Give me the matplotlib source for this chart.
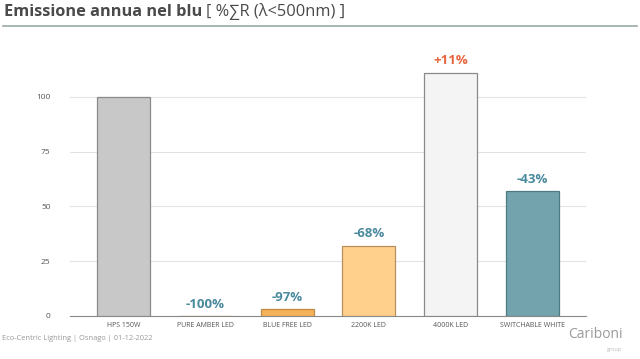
import numpy as np
import matplotlib.pyplot as plt

# data
categories = ["HPS 150W", "PURE AMBER LED", "BLUE FREE LED", "2200K LED", "4000K LED", "SWITCHABLE WHITE"]
values = [100, 0, 3, 32, 111, 57]
labels = ["", "-100%", "-97%", "-68%", "+11%", "-43%"]
bar_colors = ["#c8c8c8", "#f6b25a", "#f6b25a", "#ffd08c", "#f4f4f4", "#73a4ad"]
edge_colors = ["#8a8a8a", "#c08a45", "#c08a45", "#b89060", "#8a8a8a", "#4f7a82"]
label_colors = ["#4a8a9e", "#4a8a9e", "#4a8a9e", "#4a8a9e", "#e8643c", "#4a8a9e"]

plt.rcParams['font.family'] = ['Open Sans', 'DejaVu Sans']

fig = plt.figure(figsize=(6.4, 3.59), dpi=100)
ax = fig.add_axes([70/640, 1 - 316/359, (586-70)/640, (316-54)/359])

x = np.arange(len(categories))
ax.bar(x, values, width=0.65, color=bar_colors, edgecolor=edge_colors, linewidth=0.9, zorder=3)

for i, (v, lab) in enumerate(zip(values, labels)):
    if lab:
        ax.text(i, v + 2.5, lab, ha='center', va='bottom', fontsize=9.5,
                fontweight='bold', color=label_colors[i], zorder=4)

ax.set_xlim(-0.66, 5.66)
ax.set_ylim(0, 119.5)
ax.set_yticks([0, 25, 50, 75, 100])
ax.set_xticks(x)
ax.set_xticklabels(categories)
ax.tick_params(axis='x', length=0, labelsize=5, labelcolor='#555555', pad=4)
ax.tick_params(axis='y', length=0, labelsize=6, labelcolor='#555555', pad=14)
ax.grid(axis='y', color='#e2e2e2', linewidth=0.8, zorder=0)
for s in ['top', 'right', 'left']:
    ax.spines[s].set_visible(False)
ax.spines['bottom'].set_color('#888888')
ax.spines['bottom'].set_linewidth(0.8)

# title
t1 = fig.text(4/640, 1 - 12/359, "Emissione annua nel blu", fontsize=11.8, fontweight='bold',
              color='#4a4a4a', va='center', ha='left')
fig.canvas.draw()
fig.text(206/640, 1 - 12/359, "[ %∑R (λ<500nm) ]", fontsize=11.8,
         color='#4a4a4a', va='center', ha='left')
fig.add_artist(plt.Line2D([3/640, 637/640], [1 - 26/359, 1 - 26/359], color='#9aaba8', linewidth=1.2))

# footer
fig.text(2/640, 1 - 338/359, "Eco-Centric Lighting | Osnago | 01-12-2022", fontsize=5.4,
         color='#999999', va='center', ha='left')
fig.text(623/640, 1 - 335/359, "Cariboni", fontsize=10, color='#9a9a9a', va='center', ha='right')
fig.text(622/640, 1 - 349/359, "group", fontsize=4, color='#bbbbbb', va='center', ha='right')

plt.savefig('out.png', dpi=100)
